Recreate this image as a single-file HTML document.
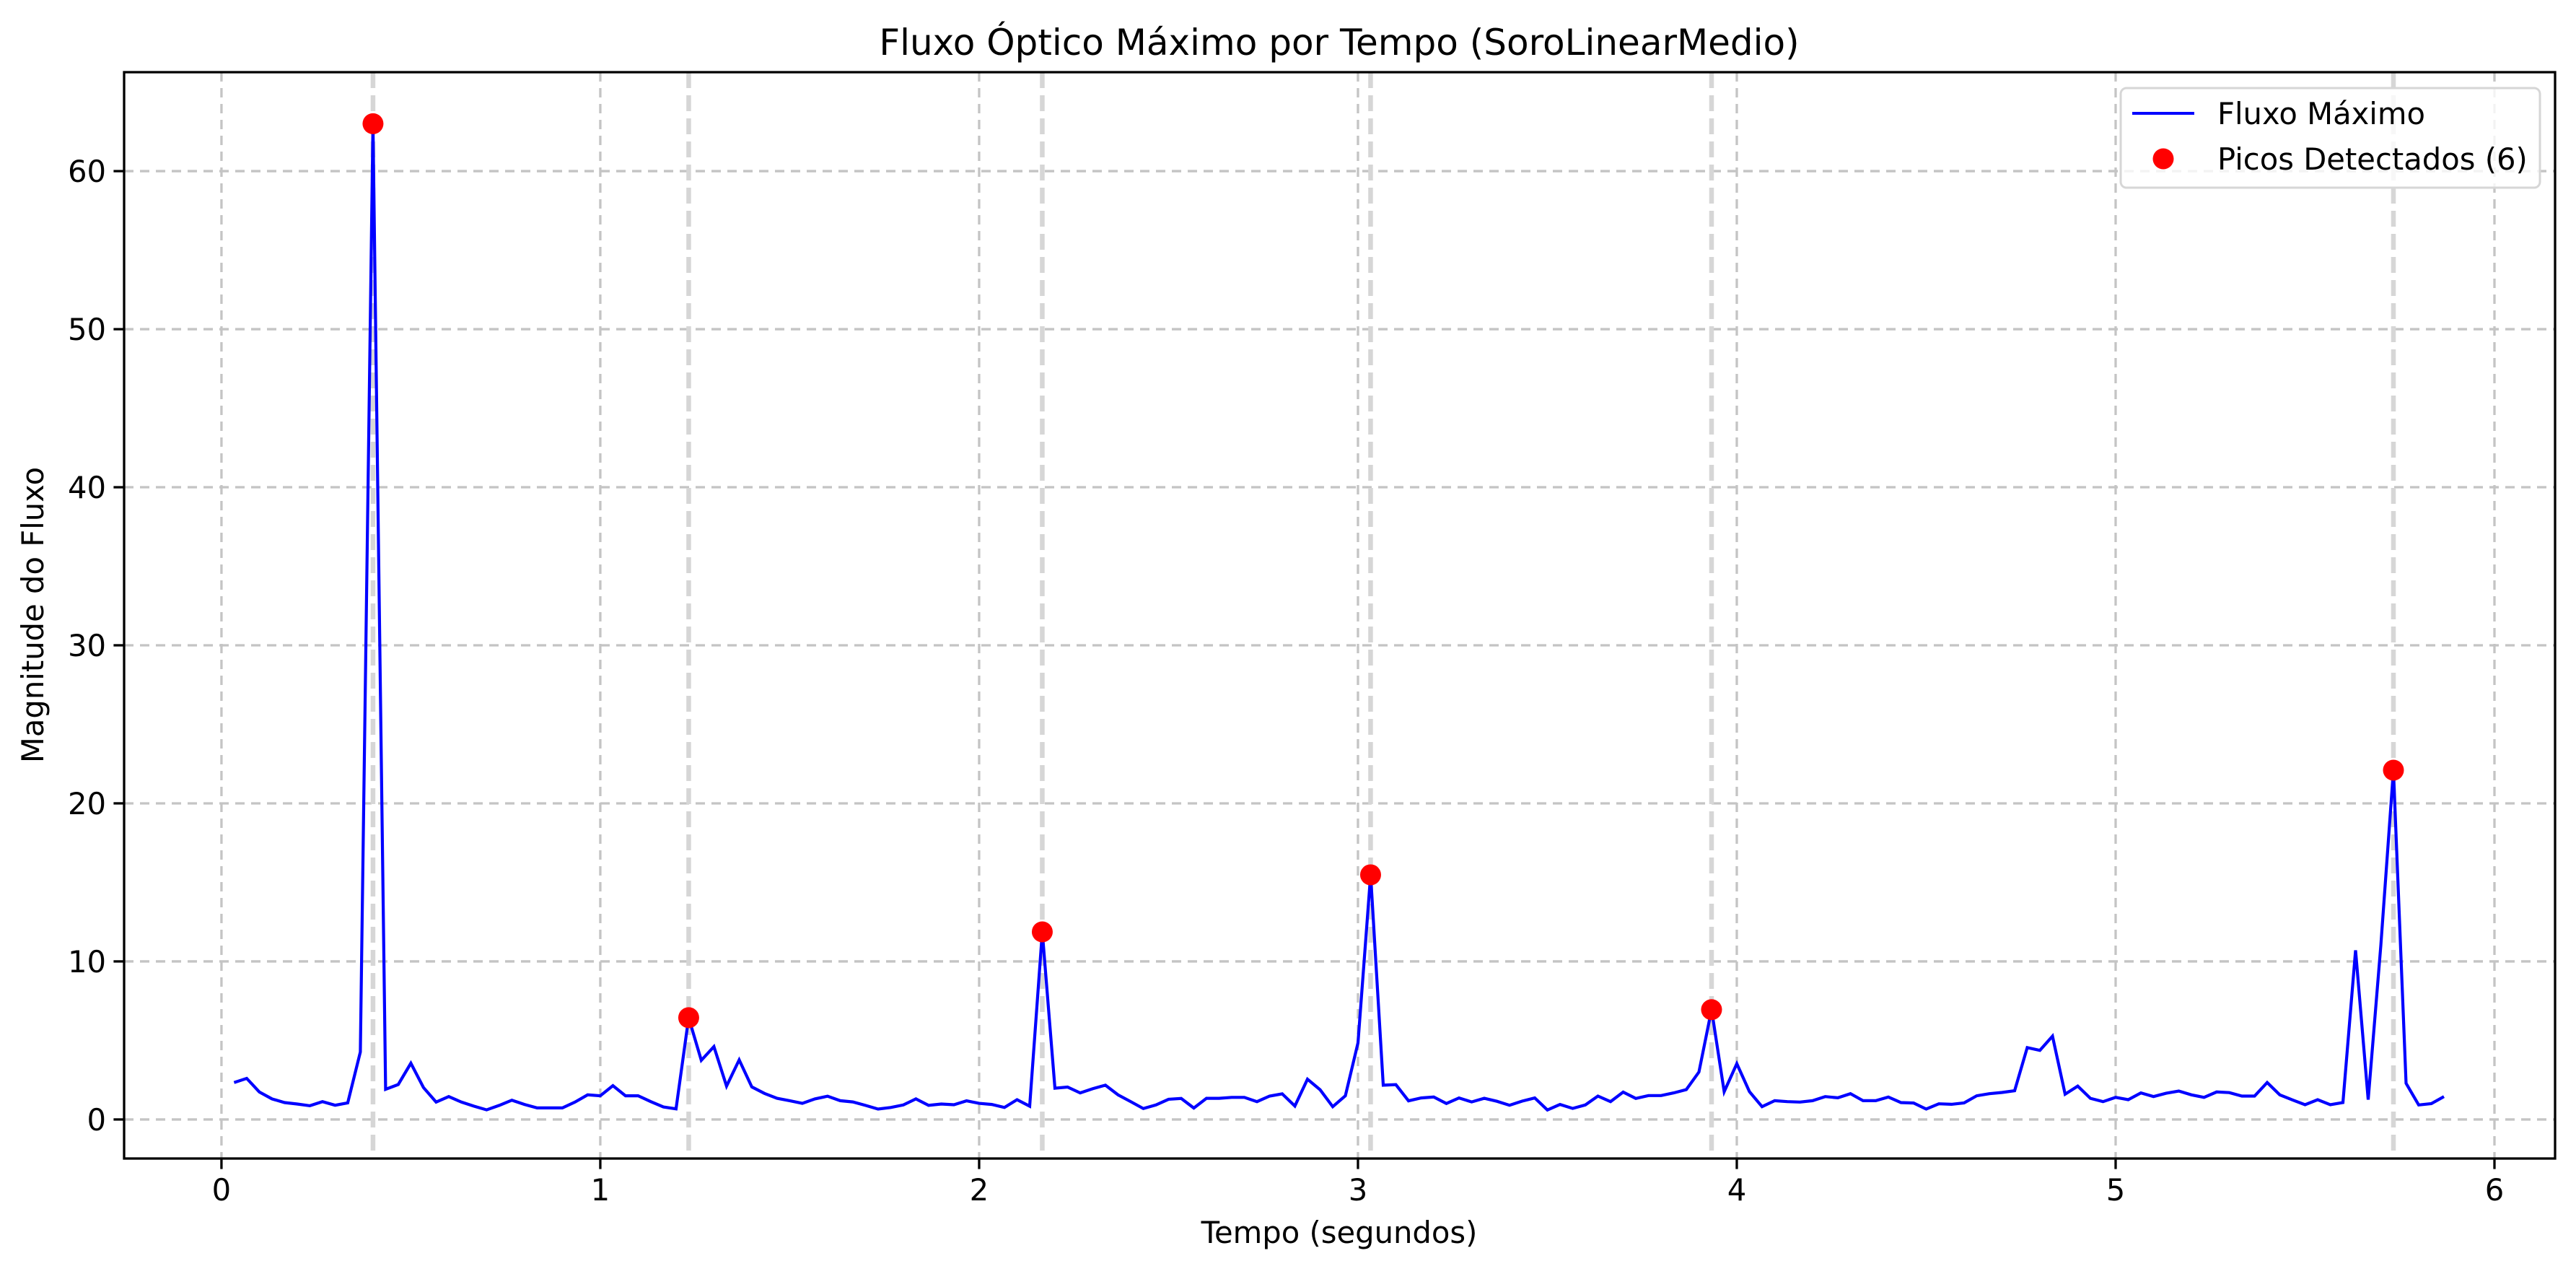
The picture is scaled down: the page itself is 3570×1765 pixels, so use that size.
<!DOCTYPE html>
<html><head><meta charset="utf-8"><style>
html,body{margin:0;padding:0;background:#fff;}
svg{display:block;font-family:"DejaVu Sans","Liberation Sans",sans-serif;}
</style></head><body>
<svg id="chart" width="3570" height="1765" viewBox="0 0 3570 1765" xmlns="http://www.w3.org/2000/svg">
<rect width="3570" height="1765" fill="#fff"/>
<text x="1856" y="76" font-size="50" text-anchor="middle">Fluxo Óptico Máximo por Tempo (SoroLinearMedio)</text>
<text x="1856" y="1722" font-size="41.7" text-anchor="middle">Tempo (segundos)</text>
<text x="0" y="0" font-size="41.7" text-anchor="middle" transform="translate(60,852) rotate(-90)">Magnitude do Fluxo</text>
<g id="grid"></g>
<g id="peaklines"></g>
<g id="series"></g>
<g id="axes"></g>
<g id="legend">
<rect x="2939" y="122" width="581" height="138" rx="8" fill="#fff" fill-opacity="0.8" stroke="#d6d6d6" stroke-width="3"/>
<line x1="2955" y1="157" x2="3041" y2="157" stroke="#0000ff" stroke-width="4"/>
<text x="3073" y="172" font-size="41.7">Fluxo Máximo</text>
<circle cx="2998" cy="220" r="14.5" fill="#ff0000"/>
<text x="3073" y="235" font-size="41.7">Picos Detectados (6)</text>
</g>
</svg>
<script>
const values = [2.34,2.6,1.74,1.3,1.07,0.98,0.87,1.13,0.9,1.05,4.27,63.0,1.91,2.21,3.56,2.02,1.1,1.45,1.1,0.84,0.61,0.89,1.22,0.95,0.73,0.73,0.73,1.1,1.56,1.5,2.14,1.5,1.5,1.13,0.79,0.67,6.44,3.74,4.61,2.11,3.77,2.06,1.65,1.34,1.19,1.02,1.3,1.47,1.19,1.11,0.89,0.66,0.76,0.92,1.3,0.89,0.98,0.93,1.18,1.02,0.95,0.76,1.25,0.84,11.87,1.98,2.05,1.68,1.95,2.17,1.56,1.13,0.69,0.92,1.28,1.33,0.72,1.34,1.34,1.4,1.4,1.13,1.48,1.62,0.85,2.55,1.88,0.81,1.5,4.85,15.48,2.17,2.2,1.18,1.36,1.42,1.01,1.36,1.11,1.34,1.15,0.9,1.16,1.36,0.6,0.95,0.7,0.92,1.48,1.13,1.73,1.33,1.51,1.51,1.68,1.89,3.0,6.95,1.76,3.53,1.76,0.81,1.19,1.13,1.1,1.19,1.45,1.37,1.63,1.19,1.19,1.42,1.07,1.04,0.66,0.99,0.96,1.05,1.5,1.63,1.71,1.82,4.55,4.37,5.27,1.6,2.11,1.34,1.13,1.4,1.25,1.68,1.45,1.66,1.8,1.56,1.4,1.74,1.7,1.48,1.48,2.34,1.56,1.24,0.93,1.25,0.93,1.07,10.7,1.25,11.0,22.1,2.29,0.92,1.0,1.45];
const frameRate = 30;
const peakIndices = [12,37,65,91,118,172];
const xTicks = [0,1,2,3,4,5,6];
const yTicks = [0,10,20,30,40,50,60];
const xDomain = [-0.257,6.16];
const yDomain = [-2.47,66.26];

const L=172,R=3541,T=100,B=1605;
const NS='http://www.w3.org/2000/svg';
function xs(t){return L+(t-xDomain[0])/(xDomain[1]-xDomain[0])*(R-L);}
function ys(v){return B-(v-yDomain[0])/(yDomain[1]-yDomain[0])*(B-T);}
function mk(tag,attrs,parent){const e=document.createElementNS(NS,tag);for(const k in attrs)e.setAttribute(k,attrs[k]);parent.appendChild(e);return e;}
const grid=document.getElementById('grid'),pl=document.getElementById('peaklines'),ser=document.getElementById('series'),ax=document.getElementById('axes');

xTicks.forEach(t=>{
  const g=mk('line',{x1:xs(t),x2:xs(t),y1:T,y2:B,stroke:'#c4c4c4','stroke-width':3.3,'stroke-dasharray':'13 9'},grid);
  
  
  const tk=mk('line',{x1:xs(t),x2:xs(t),y1:B,y2:B+14.6,stroke:'#000','stroke-width':3.3},ax);
  
  
  const lb=mk('text',{x:xs(t),y:B+58,'font-size':41.7,'text-anchor':'middle'},ax);
  lb.textContent=String(t);
  
  
});
yTicks.forEach(v=>{
  const g=mk('line',{x1:L,x2:R,y1:ys(v),y2:ys(v),stroke:'#c4c4c4','stroke-width':3.3,'stroke-dasharray':'13 9'},grid);
  
  
  const tk=mk('line',{x1:L-14.6,x2:L,y1:ys(v),y2:ys(v),stroke:'#000','stroke-width':3.3},ax);
  
  
  const lb=mk('text',{x:L-25,y:ys(v)+15,'font-size':41.7,'text-anchor':'end'},ax);
  lb.textContent=String(v);
  
  
});
peakIndices.forEach(i=>{
  const t=i/frameRate;
  const l=mk('line',{x1:xs(t),x2:xs(t),y1:T,y2:B,stroke:'#d6d6d6','stroke-width':6.5,'stroke-dasharray':'22 10'},pl);
  
  
});
const pts=values.map((v,i)=>xs((i+1)/frameRate).toFixed(1)+','+ys(v).toFixed(1)).join(' ');
const line=mk('polyline',{points:pts,fill:'none',stroke:'#0000ff','stroke-width':4.2,'stroke-linejoin':'miter'},ser);


peakIndices.forEach(i=>{
  const c=mk('circle',{cx:xs(i/frameRate),cy:ys(values[i-1]),r:14.5,fill:'#ff0000'},ser);
  
  
});
const fr=mk('rect',{x:L,y:T,width:R-L,height:B-T,fill:'none',stroke:'#000','stroke-width':3.3},ax);


</script>
</body></html>
